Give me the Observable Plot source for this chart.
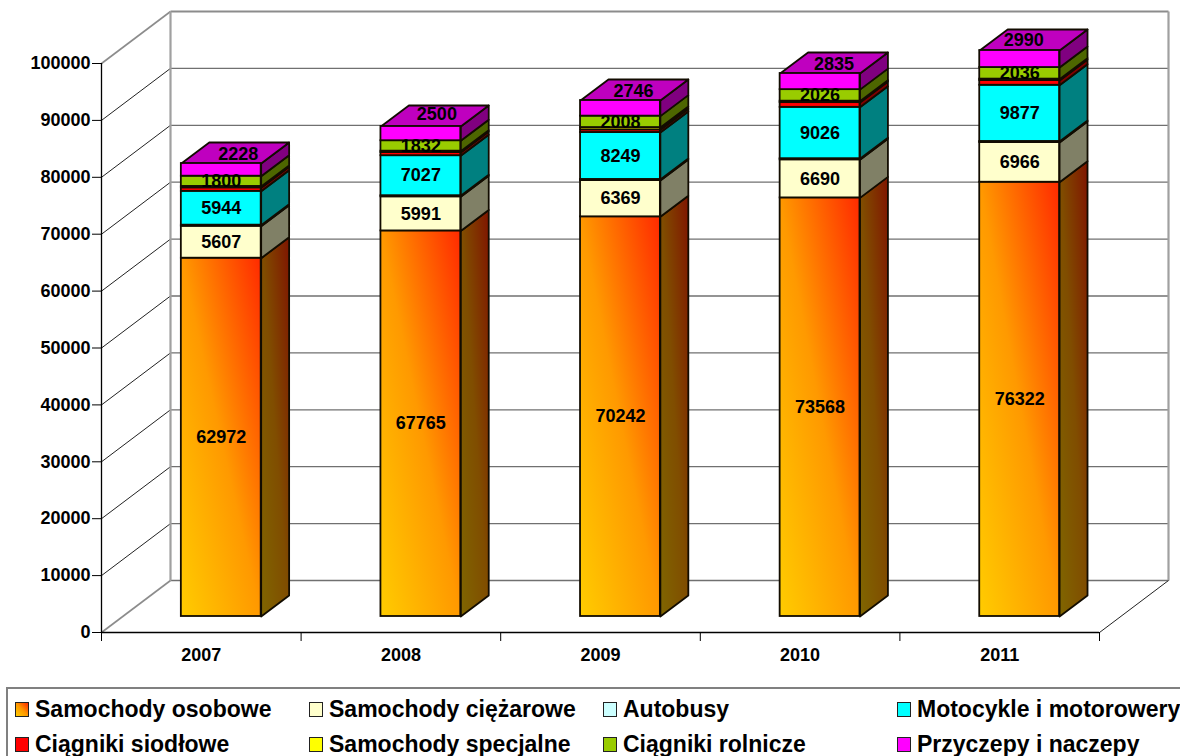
<!DOCTYPE html>
<html lang="pl">
<head>
<meta charset="utf-8">
<script src="https://cdn.jsdelivr.net/npm/d3@7"></script>
<script src="https://cdn.jsdelivr.net/npm/@observablehq/plot@0.6"></script>
<style>
  html, body { margin: 0; padding: 0; background: #fff; overflow: hidden; }
  svg { display: block; overflow: visible; }
  .legend {
    box-sizing: border-box; position: absolute; left: 6px; top: 687px; width: 1176px; height: 72px;
    border: 2px solid #808080; font: bold 23px "Liberation Sans", Arial, sans-serif; color: #000;
  }
  .legend .item { position: absolute; display: flex; align-items: center; height: 30px; white-space: nowrap; }
  .legend .swatch { box-sizing: border-box; width: 14px; height: 15px; border: 1.5px solid #222; margin-right: 6px; }
</style>
</head>
<body>
<div id="chart"></div>
<script>
// Vehicle registrations by type, 2007-2011.
const years = [2007, 2008, 2009, 2010, 2011];
const seriesNames = ["Samochody osobowe", "Samochody ciężarowe", "Autobusy", "Motocykle i motorowery",
                     "Ciągniki siodłowe", "Samochody specjalne", "Ciągniki rolnicze", "Przyczepy i naczepy"];
const osobowe     = [62972, 67765, 70242, 73568, 76322];
const ciezarowe   = [5607, 5991, 6369, 6690, 6966];
const autobusy    = [200, 200, 200, 200, 200];
const motocykle   = [5944, 7027, 8249, 9026, 9877];
const siodlowe    = [610, 550, 470, 830, 830];
const specjalne   = [250, 250, 400, 255, 250];
const rolnicze    = [1800, 1832, 2008, 2026, 2036];
const przyczepy   = [2228, 2500, 2746, 2835, 2990];
const seriesValues = [osobowe, ciezarowe, autobusy, motocykle, siodlowe, specjalne, rolnicze, przyczepy];
const labelled = [true, true, false, true, false, false, true, true];

// Face colours per series: front, side.
const frontFills = ["url(#carFront)", "#FFFFCC", "#CCFFFF", "#00FFFF", "#FF0000", "#FFFF00", "#99CC00", "#FF00FF"];
const sideFills  = ["url(#carSide)", "#808066", "#668080", "#008080", "#800000", "#808000", "#4D6600", "#800080"];
const topFill = "#BF00BF";
const edge = "#120c00";

// Oblique projection expressed in data units: full wall depth and bar geometry.
const wallX = 0.3457, wallY = 9140;
const barLeft = -0.1, barRight = 0.3, barLift = 2812, barX = 0.14, barY = 3690;
const tickValues = d3.range(0, 100001, 10000);
const xStart = 2006.5, xEnd = 2011.5;
const boundaries = d3.range(xStart, xEnd + 0.5, 1);

// Offsets of the top-segment label, which sits on the lid of each bar.
const topLabelDx = [17, 16, 13, 14, 4];
const topLabelDy = [-16, -19, -17, -17, -19];

// Stack each year's series into front, side and lid faces.
const fronts = [], faces = [], labels = [], topLabels = [];
years.forEach((year, i) => {
  let base = barLift;
  const x1 = year + barLeft, x2 = year + barRight;
  seriesValues.forEach((values, s) => {
    const v = values[i], y1 = base, y2 = base + v;
    fronts.push({x1, x2, y1, y2, s});
    faces.push({fill: sideFills[s], points: [
      {x: x2, y: y1}, {x: x2 + barX, y: y1 + barY}, {x: x2 + barX, y: y2 + barY}, {x: x2, y: y2}, {x: x2, y: y1}
    ]});
    if (labelled[s]) {
      const entry = {x: (x1 + x2) / 2, y: (y1 + y2) / 2, v};
      if (s === seriesValues.length - 1) topLabels.push({...entry, i}); else labels.push(entry);
    }
    base = y2;
  });
  faces.push({fill: topFill, points: [
    {x: x1, y: base}, {x: x2, y: base}, {x: x2 + barX, y: base + barY}, {x: x1 + barX, y: base + barY}, {x: x1, y: base}
  ]});
});

const gradients = () => {
  const defs = d3.create("svg:defs");
  const add = (id, stops) => {
    const g = defs.append("linearGradient").attr("id", id)
      .attr("x1", 0).attr("y1", 1).attr("x2", 1).attr("y2", 0);
    stops.forEach(([o, c]) => g.append("stop").attr("offset", o).attr("stop-color", c));
  };
  add("carFront", [[0, "#FFCC00"], [0.5, "#FF9900"], [1, "#FF2A00"]]);
  add("carSide", [[0, "#806600"], [0.5, "#804D00"], [1, "#801500"]]);
  return defs.node();
};

const textStyle = {fontWeight: "bold", fontSize: 18, fill: "#000"};

const chart = Plot.plot({
  width: 1180,
  height: 686,
  marginLeft: 101,
  marginRight: 81,
  marginTop: 63,
  marginBottom: 54,
  style: {fontFamily: "'Liberation Sans', Arial, sans-serif", background: "#fff", overflow: "visible"},
  x: {type: "linear", domain: [xStart, xEnd], range: [101, 1099], axis: null},
  y: {type: "linear", domain: [0, 100000], range: [632, 63], axis: null},
  marks: [
    gradients,
    // Back wall gridlines and left-wall diagonals
    Plot.link(tickValues, {x1: xStart + wallX, x2: xEnd + wallX, y1: d => d + wallY, y2: d => d + wallY,
      stroke: d => d === 100000 ? "#8c8c8c" : "#707070", strokeWidth: d => d === 100000 ? 2 : 1.3}),
    Plot.link(tickValues, {x1: xStart, x2: xStart + wallX, y1: d => d, y2: d => d + wallY,
      stroke: d => d === 0 || d === 100000 ? "#8c8c8c" : "#222", strokeWidth: d => d === 0 || d === 100000 ? 1.6 : 1}),
    Plot.link([xStart + wallX, xEnd + wallX], {x1: d => d, x2: d => d, y1: wallY, y2: 100000 + wallY,
      stroke: "#a0a0a0", strokeWidth: 2.2}),
    Plot.link([xEnd], {x1: d => d, x2: d => d + wallX, y1: 0, y2: wallY, stroke: "#222", strokeWidth: 1}),
    // Axes
    Plot.ruleX([xStart], {y1: 0, y2: 100000, stroke: "#000", strokeWidth: 1.3}),
    Plot.ruleY([0], {x1: xStart, x2: xEnd, stroke: "#000", strokeWidth: 1.5}),
    Plot.axisY({ticks: tickValues, tickFormat: d => String(d), tickSize: 9, tickPadding: 2,
      stroke: "#000", fontWeight: "bold", fontSize: 18, fill: "#000"}),
    Plot.axisX({ticks: boundaries, tickFormat: () => "", tickSize: 9, stroke: "#000"}),
    Plot.axisX({ticks: years, tickFormat: d => String(d), tickSize: 0, tickPadding: 16,
      fontWeight: "bold", fontSize: 18, fill: "#000"}),
    // Bars: side faces and lid, then the front faces
    ...faces.map(f => Plot.line(f.points, {x: "x", y: "y", fill: f.fill, stroke: edge, strokeWidth: 1.8})),
    Plot.rect(fronts, {x1: "x1", x2: "x2", y1: "y1", y2: "y2",
      fill: d => frontFills[d.s], stroke: edge, strokeWidth: 1.8}),
    // Value labels
    Plot.text(labels, {x: "x", y: "y", text: d => String(d.v), ...textStyle}),
    ...topLabels.map(d => Plot.text([d], {x: "x", y: "y", text: e => String(e.v),
      dx: topLabelDx[d.i], dy: topLabelDy[d.i], ...textStyle}))
  ],
  color: {type: "identity"}
});
document.getElementById("chart").append(chart);

// Two-row legend under the plot
const legendSwatches = ["linear-gradient(to top right,#FFCC00,#FF9900,#FF2A00)", "#FFFFCC", "#CCFFFF", "#00FFFF",
                        "#FF0000", "#FFFF00", "#99CC00", "#FF00FF"];
const legend = d3.select("body").append("div").attr("class", "legend");
const columns = [7, 301, 595, 889];
const rows = [5, 40];
seriesNames.forEach((name, i) => {
  const item = legend.append("div").attr("class", "item")
    .style("left", columns[i % 4] + "px").style("top", rows[Math.floor(i / 4)] + "px");
  item.append("span").attr("class", "swatch").style("background", legendSwatches[i]);
  item.append("span").text(name);
});
</script>
</body>
</html>
